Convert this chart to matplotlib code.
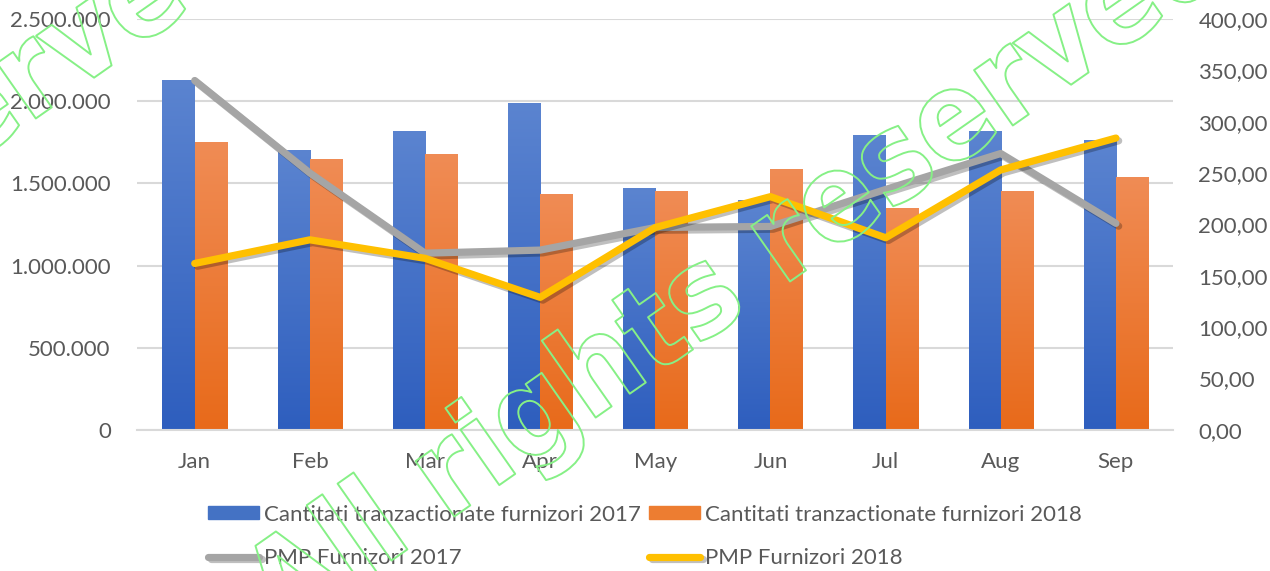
import numpy as np
import matplotlib
matplotlib.use('Agg')
import matplotlib.pyplot as plt
import matplotlib.patheffects as pe
from matplotlib.colors import LinearSegmentedColormap
from matplotlib.ticker import FuncFormatter, MultipleLocator

months = ['Jan', 'Feb', 'Mar', 'Apr', 'May', 'Jun', 'Jul', 'Aug', 'Sep']
qty_2017 = [2130000, 1703000, 1819000, 1989000, 1470000, 1399000, 1794000, 1819000, 1764000]
qty_2018 = [1752000, 1648000, 1679000, 1436000, 1454000, 1588000, 1350000, 1454000, 1539000]
pmp_2017 = [340, 250, 172, 175, 197, 198, 234, 269, 201]
pmp_2018 = [162, 185, 167, 129, 197, 227, 187, 253, 284]

labels = ['Cantitati tranzactionate furnizori 2017', 'Cantitati tranzactionate furnizori 2018',
          'PMP Furnizori 2017', 'PMP Furnizori 2018']
watermark = 'All rights reserved'

TXT = '#595959'
GRID = '#D9D9D9'

plt.rcParams['font.family'] = ['Lato', 'DejaVu Sans']


def gradient_bars(ax, bars, top, bottom):
    cmap = LinearSegmentedColormap.from_list('g', [bottom, top])
    grad = np.linspace(0, 1, 256).reshape(-1, 1)
    for b in bars:
        x, y = b.get_xy()
        im = ax.imshow(grad, cmap=cmap, origin='lower', aspect='auto', zorder=2,
                       extent=[x, x + b.get_width(), y, y + b.get_height()])
        im.set_clip_path(b)
        b.set_facecolor('none')
        b.set_edgecolor('none')


fig = plt.figure(figsize=(12.7, 5.71), dpi=100)
ax = fig.add_axes([0.108, 0.247, 0.816, 0.72])
ax2 = ax.twinx()

x = np.arange(len(months))
w = 0.28
b1 = ax.bar(x - w / 2, qty_2017, w, color='#4472C4', zorder=2)
b2 = ax.bar(x + w / 2, qty_2018, w, color='#ED7D31', zorder=2)
gradient_bars(ax, b1, '#5B84D0', '#2E5EBE')
gradient_bars(ax, b2, '#F08C55', '#E86A1A')

ax.set_xlim(-0.5, len(months) - 0.5)
ax.set_ylim(0, 2500000)
ax.yaxis.set_major_locator(MultipleLocator(500000))
ax.yaxis.set_major_formatter(FuncFormatter(lambda v, p: f'{int(v):,}'.replace(',', '.')))
ax.grid(axis='y', color=GRID, linewidth=1.5, zorder=0)
ax.set_axisbelow(True)
ax.set_xticks(x)
ax.set_xticklabels(months)

shadow = [pe.SimpleLineShadow(offset=(2, -2), alpha=0.25), pe.Normal()]
l1, = ax2.plot(x, pmp_2017, color='#A5A5A5', lw=5.2, solid_joinstyle='round',
               solid_capstyle='round', path_effects=shadow, zorder=3)
l2, = ax2.plot(x, pmp_2018, color='#FFC000', lw=5.2, solid_joinstyle='round',
               solid_capstyle='round', path_effects=shadow, zorder=3)
ax2.set_ylim(0, 400)
ax2.yaxis.set_major_locator(MultipleLocator(50))
ax2.yaxis.set_major_formatter(FuncFormatter(lambda v, p: f'{v:.2f}'.replace('.', ',')))

for a in (ax, ax2):
    for s in a.spines.values():
        s.set_visible(False)
    a.tick_params(length=0, labelsize=16, labelcolor=TXT)
ax.spines['bottom'].set_visible(True)
ax.spines['bottom'].set_color(GRID)
ax.spines['bottom'].set_linewidth(1.5)
ax.tick_params(axis='y', pad=19)
ax.tick_params(axis='x', pad=16)
ax2.tick_params(axis='y', pad=18)

h_blue = plt.Rectangle((0, 0), 1, 1, color='#4472C4')
h_orange = plt.Rectangle((0, 0), 1, 1, color='#ED7D31')
leg = fig.legend([h_blue, l1, h_orange, l2], [labels[0], labels[2], labels[1], labels[3]],
                 ncol=2, loc='center', bbox_to_anchor=(0.508, 0.061), frameon=False,
                 fontsize=16, handlelength=2.3, handleheight=0.55, handletextpad=0.22,
                 columnspacing=0.36, labelspacing=1.05, labelcolor=TXT)

# watermark, outline only
wm = dict(fontsize=89, fontweight='bold', fontstretch='condensed', rotation=35,
          ha='center', va='center', rotation_mode='anchor', family='DejaVu Sans',
          color=(1, 1, 1, 0), zorder=10,
          path_effects=[pe.Stroke(linewidth=1.4, foreground='#86F086')])
fig.text(740 / 1270, 1 - 275 / 571, watermark, **wm)
fig.text(-237 / 1270, 1 - 268 / 571, watermark, **wm)

fig.savefig('out.png', dpi=100)
